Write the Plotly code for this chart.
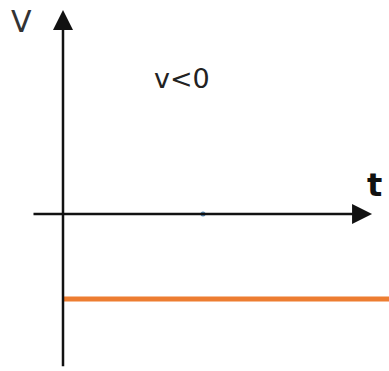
import plotly.graph_objects as go

# data
t_vals = [0, 10]
v_vals = [-1, -1]
marker_t = [4]
marker_v = [0]
x_label = "t"
y_label = "V"
note = "v<0"

FONT = "DejaVu Sans, Verdana, sans-serif"

fig = go.Figure()
fig.add_trace(go.Scatter(x=t_vals, y=v_vals, mode="lines",
                         line=dict(color="#ED7D31", width=5), hoverinfo="skip"))
fig.add_trace(go.Scatter(x=marker_t, y=marker_v, mode="markers",
                         marker=dict(color="#5B8DB8", size=5), hoverinfo="skip"))

# axes with arrows
fig.add_annotation(x=8.83, y=0, ax=-0.886, ay=0, axref="x", ayref="y", xref="x", yref="y",
                   text="", showarrow=True, arrowhead=2, arrowsize=1.6, arrowwidth=2.5,
                   arrowcolor="#111111", standoff=0)
fig.add_annotation(x=0, y=2.4, ax=0, ay=-1.81, axref="x", ayref="y", xref="x", yref="y",
                   text="", showarrow=True, arrowhead=2, arrowsize=1.6, arrowwidth=2.5,
                   arrowcolor="#111111", standoff=0)

fig.add_annotation(x=-1.2, y=2.26, text=y_label, showarrow=False,
                   font=dict(family=FONT, size=30, color="#333333"))
fig.add_annotation(x=3.4, y=1.6, text=note, showarrow=False,
                   font=dict(family=FONT, size=27, color="#222222"))
fig.add_annotation(x=8.91, y=0.34, text="<b>" + x_label + "</b>", showarrow=False,
                   font=dict(family=FONT, size=32, color="#111111"))

fig.update_layout(width=389, height=371, margin=dict(l=0, r=0, t=0, b=0),
                  paper_bgcolor="white", plot_bgcolor="white", showlegend=False)
fig.update_xaxes(range=[-1.8, 9.314], visible=False)
fig.update_yaxes(range=[-1.847, 2.518], visible=False)
fig.write_html("out.html", config={"displayModeBar": False},
               post_script="document.body.style.margin='0';document.documentElement.style.overflow='hidden';document.body.style.overflow='hidden';")
